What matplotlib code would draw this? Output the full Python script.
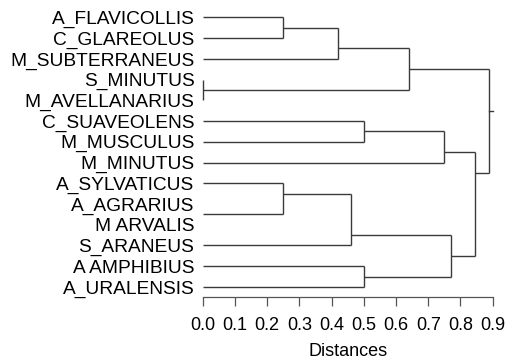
import numpy as np
import matplotlib.pyplot as plt

plt.rcParams['font.family'] = ['Liberation Sans', 'DejaVu Sans']

# leaves, top to bottom
especies = ["A_FLAVICOLLIS", "C_GLAREOLUS", "M_SUBTERRANEUS", "S_MINUTUS",
            "M_AVELLANARIUS", "C_SUAVEOLENS", "M_MUSCULUS", "M_MINUTUS",
            "A_SYLVATICUS", "A_AGRARIUS", "M ARVALIS", "S_ARANEUS",
            "A AMPHIBIUS", "A_URALENSIS"]

# merges: children (leaf index < 14, otherwise 14 + merge number) and distance
hijo_a = [0, 14, 3, 15, 5, 18, 9, 8, 21, 12, 22, 19, 17]
hijo_b = [1, 2, 4, 16, 6, 7, 10, 20, 11, 13, 23, 24, 25]
altura = [0.25, 0.42, 0.0, 0.64, 0.50, 0.75, 0.0, 0.25, 0.46, 0.50, 0.77, 0.845, 0.89]
sin_barra = [6]  # zero-distance merge drawn without its bar

ticks = [0.0, 0.1, 0.2, 0.3, 0.4, 0.5, 0.6, 0.7, 0.8, 0.9]

n = len(especies)
col = '#3a3a3a'

fig = plt.figure(figsize=(5.06, 3.62), dpi=100)
ax = fig.add_axes([0.4006, 0.1787, 0.5731, 0.802])

primero = {i: i for i in range(n)}
ultimo = {i: i for i in range(n)}
pos_y = {i: float(i) for i in range(n)}
alt = {i: 0.0 for i in range(n)}

for k in range(len(altura)):
    a, b, h = hijo_a[k], hijo_b[k], altura[k]
    nodo = n + k
    primero[nodo] = primero[a]
    ultimo[nodo] = ultimo[b]
    pos_y[nodo] = (ultimo[a] + primero[b]) / 2
    alt[nodo] = h
    for c in (a, b):
        if alt[c] < h:
            ax.plot([alt[c], h], [pos_y[c], pos_y[c]], color=col, lw=1.0,
                    solid_capstyle='butt', clip_on=False)
    if k not in sin_barra:
        ax.plot([h, h], [pos_y[a], pos_y[b]], color=col, lw=1.0,
                solid_capstyle='butt', clip_on=False)

raiz = n + len(altura) - 1
ax.plot([alt[raiz], alt[raiz] + 0.0125], [pos_y[raiz], pos_y[raiz]],
        color=col, lw=1.0, clip_on=False)

ax.set_xlim(0, 0.9)
ax.set_ylim(n - 0.5, -0.5)

ax.set_yticks(range(n))
ax.set_yticklabels(especies, fontsize=13.8)
ax.tick_params(axis='y', length=0, pad=6)

ax.set_xticks(ticks)
ax.set_xticklabels([f"{t:.1f}" for t in ticks], fontsize=13)
ax.tick_params(axis='x', direction='out', length=6.5, width=0.9, color='#555555', pad=8)
ax.set_xlabel("Distances", fontsize=13, labelpad=6)

for s in ['top', 'right', 'left']:
    ax.spines[s].set_visible(False)
ax.spines['bottom'].set_bounds(0, 0.9)
ax.spines['bottom'].set_color('#555555')
ax.spines['bottom'].set_linewidth(0.9)

fig.savefig("out.png", dpi=100)
